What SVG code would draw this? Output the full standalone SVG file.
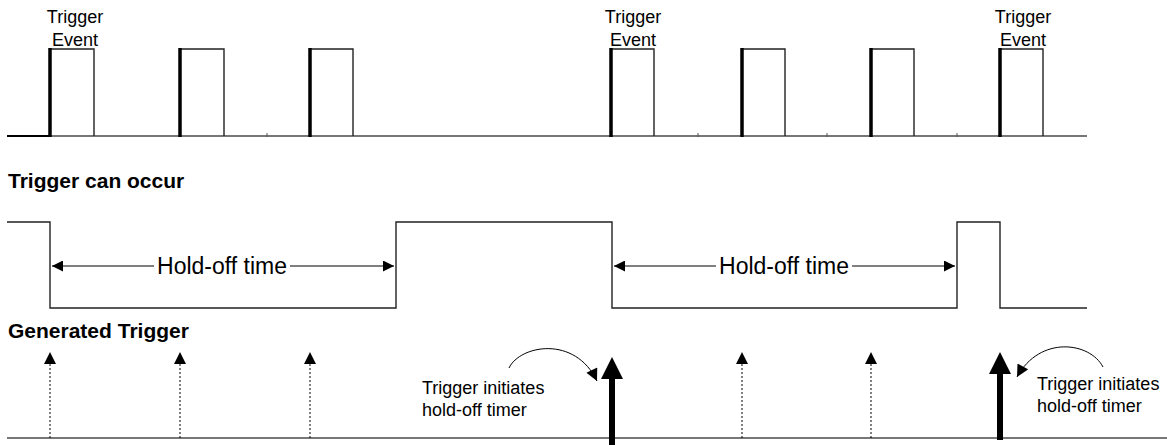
<svg xmlns="http://www.w3.org/2000/svg" width="1167" height="445" viewBox="0 0 1167 445">
<style>
text{font-family:"Liberation Sans",Arial,sans-serif;fill:#000}
.lbl{font-size:18px;text-anchor:middle}
.title{font-size:21px;font-weight:bold}
.ho{font-size:23px;text-anchor:middle}
.note{font-size:18px}
.base{stroke:#777;stroke-width:2;fill:none}
.tick{stroke:#555;stroke-width:1;fill:none}
.thin{stroke:#222;stroke-width:1.4;fill:none}
.lead{stroke:#000;stroke-width:3.5;fill:none}
.dim{stroke:#000;stroke-width:1;fill:none}
.dot{stroke:#000;stroke-width:1;stroke-dasharray:2 2;fill:none}
.thick{stroke:#000;stroke-width:6;fill:none}
.ah{fill:#000}
</style>
<defs>
<marker id="dimArrow" viewBox="0 0 10 10" refX="10" refY="5" markerWidth="13" markerHeight="11" markerUnits="userSpaceOnUse" orient="auto-start-reverse"><path d="M0,0L10,5L0,10z" fill="#000"/></marker>
<marker id="curveArrow" viewBox="0 0 10 10" refX="10" refY="5" markerWidth="14" markerHeight="12" markerUnits="userSpaceOnUse" orient="auto"><path d="M0,0L10,5L0,10z" fill="#000"/></marker>
</defs>

<g id="input-signal">
<path class="base" d="M7,136H1087"/>
<path stroke="#000" stroke-width="2" d="M7,136H50"/>
<path class="tick" d="M267,133v4M698,133v4M827,133v4M957,133v4"/>
<path class="thin" d="M50,49H94V136M180,49H224V136M310,49H353V136M611,49H654V136M742,49H785V136M871,49H914V136M1000,49H1043V136"/>
<path class="lead" d="M50,137V48M180,137V48M310,137V48M611,137V48M742,137V48M871,137V48M1000,137V48"/>
</g>

<g id="trigger-event-labels">
<text class="lbl" x="75" y="23">Trigger</text><text class="lbl" x="75" y="46">Event</text>
<text class="lbl" x="633" y="23">Trigger</text><text class="lbl" x="633" y="46">Event</text>
<text class="lbl" x="1023" y="23">Trigger</text><text class="lbl" x="1023" y="46">Event</text>
</g>

<g id="trigger-can-occur">
<text class="title" x="8" y="188">Trigger can occur</text>
<path class="thin" d="M7,222H50V308H396V222H612V308H957V222H1000V308H1087"/>
</g>

<g id="holdoff-1">
<path class="dim" d="M52,266H154" marker-start="url(#dimArrow)"/>
<path class="dim" d="M290,266H394" marker-end="url(#dimArrow)"/>
<text class="ho" x="222" y="274">Hold-off time</text>
</g>
<g id="holdoff-2">
<path class="dim" d="M614,266H716" marker-start="url(#dimArrow)"/>
<path class="dim" d="M852,266H955" marker-end="url(#dimArrow)"/>
<text class="ho" x="784" y="274">Hold-off time</text>
</g>

<g id="generated-trigger">
<text class="title" x="8" y="338">Generated Trigger</text>
<path class="base" d="M7,438H1167"/>
</g>

<g id="connectors">
<path class="dot" d="M50,438V362M180,438V362M310,438V362M742,438V362M871,438V362"/>
<path class="ah" d="M50,352l-6,12h12zM180,352l-6,12h12zM310,352l-6,12h12zM742,352l-6,12h12zM871,352l-6,12h12z"/>
<path class="thick" d="M612,445V375M1000,440V370"/>
<path class="ah" d="M612,357l-11,22h22zM1000,352l-11,22h22z"/>
<path class="dim" d="M509,368C520,345 575,335 597,381" marker-end="url(#curveArrow)"/>
<path class="dim" d="M1103,367C1090,342 1040,335 1017,377" marker-end="url(#curveArrow)"/>
</g>

<g id="notes">
<text class="note" x="422" y="394">Trigger initiates</text>
<text class="note" x="422" y="416">hold-off timer</text>
<text class="note" x="1037" y="390">Trigger initiates</text>
<text class="note" x="1037" y="412">hold-off timer</text>
</g>
</svg>
